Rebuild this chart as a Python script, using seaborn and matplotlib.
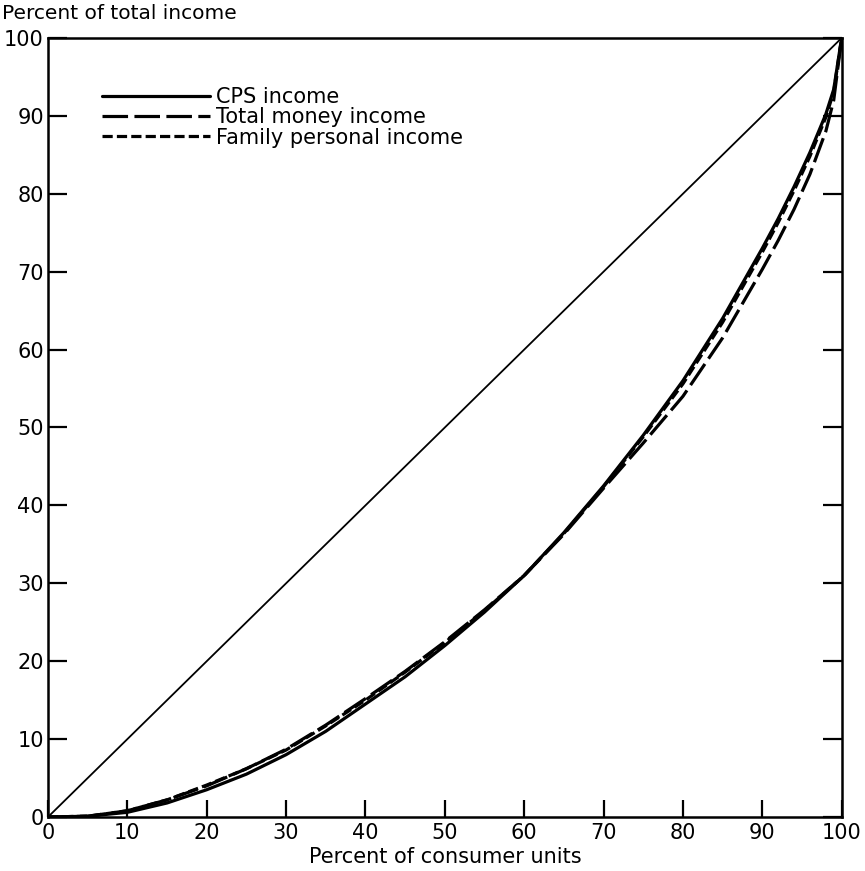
import numpy as np
import pandas as pd
import seaborn as sns
import matplotlib
matplotlib.use("Agg")
import matplotlib.pyplot as plt

# --- data (Lorenz curves) ---
pct_units = [0, 5, 10, 15, 20, 25, 30, 35, 40, 45, 50, 55, 60, 65, 70,
             75, 80, 85, 90, 92, 94, 96, 98, 99, 100]
cps_income = [0, 0.1, 0.6, 1.8, 3.5, 5.5, 8.0, 11.0, 14.5, 18.0, 22.0, 26.3,
              31.0, 36.5, 42.5, 49.0, 56.0, 64.0, 73.0, 76.8, 80.9, 85.3,
              90.2, 93.4, 100]
total_money_income = [0, 0.1, 0.8, 2.2, 4.0, 6.2, 8.7, 11.8, 15.2, 18.7, 22.5,
                      26.6, 31.0, 36.3, 42.2, 48.0, 54.0, 61.5, 70.3, 74.0,
                      78.0, 82.5, 88.0, 92.0, 100]
family_personal_income = [0, 0.1, 0.8, 2.2, 4.1, 6.2, 8.6, 11.7, 15.0, 18.6,
                          22.4, 26.5, 31.0, 36.4, 42.4, 48.8, 55.6, 63.5, 72.5,
                          76.3, 80.4, 84.8, 89.8, 93.1, 100]
equality = [0, 100]

series_names = ["CPS income", "Total money income", "Family personal income"]

df = pd.DataFrame({
    "units": pct_units * 3,
    "income": cps_income + total_money_income + family_personal_income,
    "series": [n for n in series_names for _ in pct_units],
})

sns.set_style("ticks")
plt.rcParams["font.family"] = ["DejaVu Sans"]
plt.rcParams["text.color"] = "black"
plt.rcParams["axes.labelcolor"] = "black"
plt.rcParams["xtick.color"] = "black"
plt.rcParams["ytick.color"] = "black"

fig = plt.figure(figsize=(8.65, 8.71), dpi=100)
ax = fig.add_axes([0.0555, 0.062, 0.9175, 0.8944])

# line of equality
sns.lineplot(x=equality, y=equality, color="black", linewidth=1.3, ax=ax)

sns.lineplot(data=df, x="units", y="income", hue="series", style="series",
             palette=["black"] * 3,
             dashes={"CPS income": "",
                     "Total money income": (8, 2),
                     "Family personal income": (3.2, 1.3)},
             linewidth=2.3, ax=ax, sort=False)

ax.set_xlim(0, 100)
ax.set_ylim(0, 100)
ax.set_xticks(range(0, 101, 10))
ax.set_yticks(range(0, 101, 10))
ax.tick_params(axis="y", direction="in", length=14, width=1.6,
               left=True, right=True, labelsize=15, pad=3)
ax.tick_params(axis="x", direction="in", length=12, width=1.6,
               bottom=True, top=False, labelsize=15, pad=4)
for s in ax.spines.values():
    s.set_linewidth(1.8)
    s.set_color("black")

ax.set_xlabel("Percent of consumer units", fontsize=15, labelpad=3)
ax.set_ylabel("")
fig.text(0.002, 0.995, "Percent of total income", fontsize=14.5,
         ha="left", va="top")

leg = ax.legend(loc="upper left", bbox_to_anchor=(0.057, 0.948),
                frameon=False, fontsize=15, handlelength=5.2,
                handletextpad=0.3, labelspacing=0.02, borderaxespad=0)
for line in leg.get_lines():
    line.set_linewidth(2.3)

fig.savefig("out.png", dpi=100)
